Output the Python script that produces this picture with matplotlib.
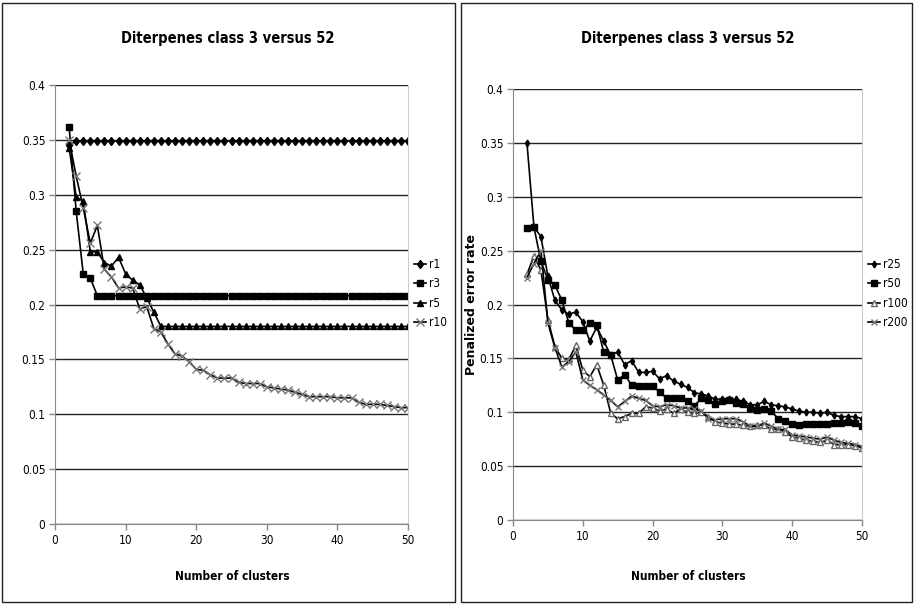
import matplotlib
matplotlib.use("Agg")
import matplotlib.pyplot as plt
from matplotlib.patches import Rectangle

plt.rcParams['font.family'] = ['DejaVu Sans']
plt.rcParams['font.stretch'] = 'condensed'

clusters = list(range(2, 51))

# Left chart: small r values
r1 = [0.345] + [0.349] * 48
r3 = [0.362, 0.285, 0.228, 0.224] + [0.208] * 45
r5 = [0.343, 0.298, 0.294, 0.248, 0.248, 0.238, 0.235, 0.243, 0.228, 0.222,
      0.218, 0.206, 0.193] + [0.180] * 36
r10 = [0.350, 0.317, 0.288, 0.256, 0.272, 0.232, 0.225, 0.215, 0.216, 0.215,
       0.196, 0.198, 0.178, 0.175, 0.164, 0.155, 0.153, 0.148, 0.141, 0.140,
       0.136, 0.133, 0.133, 0.133, 0.129, 0.128, 0.128, 0.128, 0.125, 0.124,
       0.123, 0.122, 0.120, 0.118, 0.116, 0.116, 0.116, 0.116, 0.115, 0.115,
       0.115, 0.111, 0.109, 0.109, 0.109, 0.108, 0.107, 0.106, 0.106]

# Right chart: large r values
r25 = [0.350, 0.272, 0.263, 0.226, 0.204, 0.195, 0.191, 0.193, 0.184, 0.166,
       0.179, 0.166, 0.153, 0.156, 0.144, 0.148, 0.137, 0.137, 0.138, 0.131,
       0.134, 0.129, 0.126, 0.123, 0.118, 0.117, 0.115, 0.112, 0.112, 0.112,
       0.112, 0.110, 0.107, 0.107, 0.110, 0.107, 0.106, 0.105, 0.103, 0.101,
       0.100, 0.100, 0.099, 0.100, 0.097, 0.096, 0.096, 0.096, 0.094]
r50 = [0.271, 0.272, 0.240, 0.223, 0.218, 0.204, 0.183, 0.176, 0.176, 0.183,
       0.181, 0.156, 0.153, 0.130, 0.135, 0.125, 0.124, 0.124, 0.124, 0.119,
       0.113, 0.113, 0.113, 0.110, 0.106, 0.113, 0.111, 0.108, 0.110, 0.111,
       0.109, 0.108, 0.104, 0.102, 0.103, 0.101, 0.094, 0.092, 0.089, 0.088,
       0.089, 0.089, 0.089, 0.089, 0.090, 0.090, 0.091, 0.090, 0.087]
r100 = [0.228, 0.245, 0.232, 0.186, 0.161, 0.150, 0.149, 0.162, 0.139, 0.133,
        0.144, 0.125, 0.099, 0.094, 0.096, 0.099, 0.099, 0.105, 0.104, 0.101,
        0.103, 0.099, 0.103, 0.100, 0.099, 0.100, 0.096, 0.091, 0.090, 0.089,
        0.089, 0.088, 0.087, 0.088, 0.088, 0.084, 0.084, 0.082, 0.077, 0.076,
        0.074, 0.073, 0.072, 0.074, 0.070, 0.070, 0.070, 0.069, 0.067]
r200 = [0.225, 0.238, 0.250, 0.183, 0.160, 0.142, 0.147, 0.156, 0.130, 0.125,
        0.121, 0.116, 0.111, 0.105, 0.110, 0.115, 0.113, 0.111, 0.106, 0.105,
        0.107, 0.106, 0.104, 0.104, 0.103, 0.101, 0.094, 0.093, 0.094, 0.094,
        0.094, 0.091, 0.087, 0.087, 0.090, 0.087, 0.084, 0.084, 0.079, 0.078,
        0.077, 0.076, 0.075, 0.077, 0.074, 0.072, 0.071, 0.070, 0.068]

title = "Diterpenes class 3 versus 52"
xlabel = "Number of clusters"
ylabel = "Penalized error rate"
yticks = [0, 0.05, 0.1, 0.15, 0.2, 0.25, 0.3, 0.35, 0.4]
ytick_labels = ["0", "0.05", "0.1", "0.15", "0.2", "0.25", "0.3", "0.35", "0.4"]
xticks = [0, 10, 20, 30, 40, 50]

W, H = 914, 604
fig = plt.figure(figsize=(W / 100, H / 100), dpi=100)


def fx(px):
    return px / W


def fy(py):
    return 1 - py / H


# panel frames
for x0, x1 in [(2, 455), (461, 912)]:
    fig.patches.append(Rectangle((fx(x0), 2 / H), (x1 - x0) / W, 599 / H,
                                 transform=fig.transFigure, fill=False,
                                 edgecolor='#222222', linewidth=1.0))


def style_axes(ax):
    ax.set_xlim(0, 50)
    ax.set_ylim(0, 0.4)
    ax.set_yticks(yticks)
    ax.set_yticklabels(ytick_labels)
    ax.set_xticks(xticks)
    ax.tick_params(axis='both', labelsize=8.5, direction='out', length=4,
                   color='#888888', width=1, pad=3)
    ax.yaxis.grid(True, color='#222222', linewidth=1.0)
    ax.set_axisbelow(True)
    ax.spines['top'].set_visible(False)
    ax.spines['left'].set_color('#888888')
    ax.spines['bottom'].set_color('#888888')
    ax.spines['right'].set_color('#cccccc')


axL = fig.add_axes([fx(55), fy(524), 353 / W, 439 / H])
axR = fig.add_axes([fx(513), fy(520), 349 / W, 431 / H])

lw = 1.2
axL.plot(clusters, r1, color='black', lw=lw, marker='d', ms=4.5, label='r1')
axL.plot(clusters, r3, color='black', lw=lw, marker='s', ms=4.5, label='r3')
axL.plot(clusters, r5, color='black', lw=lw, marker='^', ms=4.5, label='r5')
axL.plot(clusters, r10, color='black', lw=lw, marker='x', ms=5.5,
         markeredgecolor='#777777', markeredgewidth=1.0, label='r10')
style_axes(axL)
axL.legend(loc='upper left', bbox_to_anchor=(fx(414), fy(258)),
           bbox_transform=fig.transFigure, frameon=False,
           fontsize=8.5, handlelength=1.0, handletextpad=0.25,
           labelspacing=0.55, borderaxespad=0, borderpad=0)

axR.plot(clusters, r25, color='black', lw=lw, marker='d', ms=3.5, label='r25')
axR.plot(clusters, r50, color='black', lw=lw, marker='s', ms=4.5, label='r50')
axR.plot(clusters, r100, color='black', lw=lw, marker='^', ms=4.5,
         markerfacecolor='white', markeredgecolor='#666666', label='r100')
axR.plot(clusters, r200, color='black', lw=lw, marker='x', ms=4.5,
         markeredgecolor='#777777', markeredgewidth=1.0, label='r200')
style_axes(axR)
axR.set_ylabel(ylabel, fontsize=9, fontweight='bold', fontstretch='normal')
axR.yaxis.set_label_coords(-0.1, 0.5)
axR.legend(loc='upper left', bbox_to_anchor=(fx(868), fy(258)),
           bbox_transform=fig.transFigure, frameon=False,
           fontsize=8.5, handlelength=1.0, handletextpad=0.25,
           labelspacing=0.55, borderaxespad=0, borderpad=0)

# titles and axis captions placed within each panel
for cx in (228, 688):
    fig.text(fx(cx), fy(38), title, ha='center', va='center',
             fontsize=10.5, fontweight='bold')
for cx in (232, 688):
    fig.text(fx(cx), fy(577), xlabel, ha='center', va='center',
             fontsize=8.5, fontweight='bold')

fig.savefig("out.png", dpi=100)
